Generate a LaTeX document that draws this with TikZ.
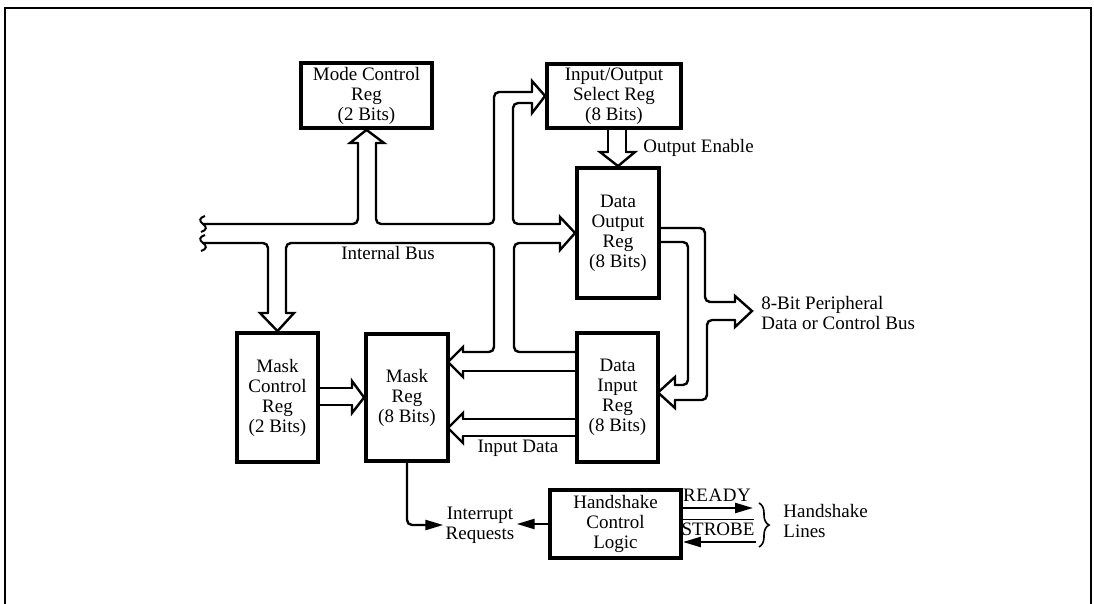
\documentclass[tikz,border=0pt]{standalone}
\usepackage{fontspec}
\setmainfont{Liberation Serif}
\usetikzlibrary{arrows.meta,decorations.pathreplacing}
\newcommand\lblfont{\fontsize{9.5}{10}\selectfont}
\begin{document}
\begin{tikzpicture}[x=0.5pt,y=-0.5pt,
 regbox/.style={draw,line width=1.9pt,inner sep=0pt,align=center,font=\lblfont},
 txt/.style={inner sep=1pt,font=\lblfont,align=center},
 bus/.style={line width=1.2pt,rounded corners=2.5pt,line cap=round},
 bushead/.style={line width=1.2pt,line join=miter,line cap=round},
 sig/.style={line width=1.2pt,-{Triangle[length=9pt,width=5pt]}},
]
\useasboundingbox (0,0) rectangle (1094,604);
% frame
\draw[line width=1pt] (5,604) -- (5,8) -- (1091,8) -- (1091,604);

% registers
\node[regbox,minimum width=65.5pt,minimum height=32.5pt] (mode) at (366.5,95.5) {Mode Control\\Reg\\(2 Bits)};
\node[regbox,minimum width=67pt,minimum height=32pt] (iosr) at (614,96) {Input/Output\\Select Reg\\(8 Bits)};
\node[regbox,minimum width=41pt,minimum height=65pt] (dor) at (618,233) {Data\\Output\\Reg\\(8 Bits)};
\node[regbox,minimum width=40.5pt,minimum height=64.5pt] (mcr) at (277.5,397.5) {Mask\\Control\\Reg\\(2 Bits)};
\node[regbox,minimum width=41pt,minimum height=63.5pt] (mreg) at (407,397.5) {Mask\\Reg\\(8 Bits)};
\node[regbox,minimum width=40.5pt,minimum height=64.5pt] (dir) at (617.5,397.5) {Data\\Input\\Reg\\(8 Bits)};
\node[regbox,minimum width=65.5pt,minimum height=34pt] (hcl) at (615.5,524) {Handshake\\Control\\Logic};

% labels
\node[txt] (ibus) at (388,253) {Internal Bus};
\node[txt,anchor=west] (oe) at (641,148) {Output Enable};
\node[txt,anchor=west,align=left] (pbus) at (759,313) {8-Bit Peripheral\\Data or Control Bus};
\node[txt] (indata) at (518,448) {Input Data};
\node[txt] (irq) at (480,525) {Interrupt\\Requests};
\node[txt] (ready) at (717,495) {R\kern0.3pt E\kern0.3pt A\kern0.3pt D\kern0.3pt Y};
\node[txt] (strobe) at (718,527) {$\overline{\mbox{STROBE}}$};
\node[txt,anchor=west,align=left] (hsl) at (781,521) {Handshake\\Lines};

% squiggle ends of the internal bus
\draw[line width=1pt] (205,216) .. controls (199,218) and (199,221) .. (203,224) .. controls (207,227) and (207,230) .. (201,232);
\draw[line width=1pt] (205,235) .. controls (199,237) and (199,240) .. (203,243) .. controls (207,246) and (207,249) .. (201,251);

% internal bus, upper line
\draw[bus] (203,224) -- (358,224) -- (358,143);
\draw[bushead] (358,143) -- (350,143) -- (mode.south) -- (384,143) -- (376,143);
\draw[bus] (376,143) -- (376,224) -- (494,224) -- (494,92) -- (532,92);
\draw[bushead] (532,92) -- (532,81) -- (iosr.west) -- (532,113) -- (532,103);
\draw[bus] (532,103) -- (513,103) -- (513,224) -- (560,224);
\draw[bushead] (560,224) -- (560,217) -- (dor.west) -- (560,250) -- (560,243);
\draw[bus] (560,243) -- (514,243) -- (514,352) -- (577,352);

% internal bus, lower line
\draw[bus] (203,243) -- (268,243) -- (268,313);
\draw[bushead] (268,313) -- (260,313) -- (mcr.north) -- (294,313) -- (286,313);
\draw[bus] (286,313) -- (286,243) -- (494,243) -- (494,352) -- (463,352);
\draw[bushead] (463,352) -- (463,347) -- (448,362) -- (463,377) -- (463,371);
\draw[bus] (463,371) -- (577,371);

% input data to mask reg
\draw[bus] (577,419) -- (463,419);
\draw[bushead] (463,419) -- (463,413) -- (448,428) -- (463,443) -- (463,436);
\draw[bus] (463,436) -- (577,436);

% mask control to mask reg
\draw[bus] (318,388) -- (352,388);
\draw[bushead] (352,388) -- (352,381) -- (mreg.west) -- (352,413) -- (352,405);
\draw[bus] (352,405) -- (318,405);

% output enable
\draw[bus] (608,128) -- (608,152);
\draw[bushead] (608,152) -- (600,152) -- (dor.north) -- (635,152) -- (626,152);
\draw[bus] (626,152) -- (626,128);

% peripheral bus
\draw[bus] (659,228) -- (705,228) -- (705,302) -- (735,302);
\draw[bushead] (735,302) -- (735,296) -- (752,311) -- (735,327) -- (735,320);
\draw[bus] (735,320) -- (707,320) -- (707,400) -- (675,400);
\draw[bushead] (675,400) -- (675,408) -- (658,392.5) -- (675,377) -- (675,385);
\draw[bus] (675,385) -- (688,385) -- (688,242) -- (659,242);

% interrupt and handshake signals
\draw[sig,rounded corners=2.5pt] (mreg.south) -- (mreg.south |- irq.west) -- (irq.west);
\draw[sig] (hcl.west) -- (hcl.west -| irq.east);
\coordinate (rdy) at (753,508);
\coordinate (stb) at (756,542);
\draw[sig] (hcl.east |- rdy) -- (rdy);
\draw[sig] (stb) -- (hcl.east |- stb);
\draw[line width=0.8pt,decorate,decoration={brace,amplitude=5pt}] (759,503) -- (759,547);
\end{tikzpicture}
\end{document}
